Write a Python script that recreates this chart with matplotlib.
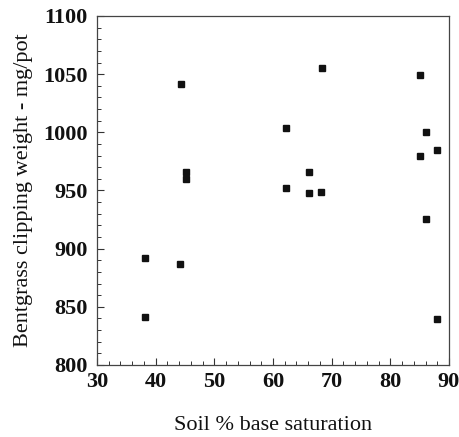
import matplotlib
matplotlib.use("Agg")
import matplotlib.pyplot as plt
from matplotlib.ticker import MultipleLocator

base_saturation = [38.2, 38.2, 44.3, 44.1, 45.2, 45.2, 62.2, 62.2, 66.1, 66.1,
                   68.1, 68.3, 85.1, 85.0, 86.1, 88.0, 86.0, 88.0]
clipping_weight = [841, 892, 1041.5, 887, 966, 960, 1004, 952.5, 966, 947.5,
                   948.5, 1055.5, 1049, 980, 1000, 985, 925.5, 839.5]

xticks = [30, 40, 50, 60, 70, 80, 90]
yticks = [800, 850, 900, 950, 1000, 1050, 1100]

plt.rcParams['font.family'] = ['Liberation Serif', 'DejaVu Serif']

fig = plt.figure(figsize=(4.59, 4.37), dpi=100)
ax = fig.add_axes([0.2113, 0.1648, 0.9782 - 0.2113, 0.9634 - 0.1648])

ax.plot(base_saturation, clipping_weight, linestyle='none', marker='s',
        markersize=3.8, color='#111111')

ax.set_xlim(30, 90)
ax.set_ylim(800, 1100)
ax.set_xticks(xticks)
ax.set_yticks(yticks)
ax.xaxis.set_minor_locator(MultipleLocator(2))
ax.yaxis.set_minor_locator(MultipleLocator(10))
ax.tick_params(which='both', direction='in', top=False, right=False,
               colors='#333333', labelcolor='#111111')
ax.tick_params(which='major', length=5, width=0.8, labelsize=16)
ax.tick_params(axis='x', which='major', pad=5)
ax.tick_params(axis='y', which='major', pad=7)
ax.tick_params(which='minor', length=3, width=0.7)
for lab in ax.get_xticklabels() + ax.get_yticklabels():
    lab.set_fontweight('bold')
for s in ax.spines.values():
    s.set_linewidth(0.9)
    s.set_color('#444444')

ax.set_xlabel('Soil % base saturation', fontsize=16, labelpad=17, color='#111111')
ax.set_ylabel('Bentgrass clipping weight - mg/pot', fontsize=16, labelpad=7,
              color='#111111')

fig.savefig('out.png', dpi=100)
